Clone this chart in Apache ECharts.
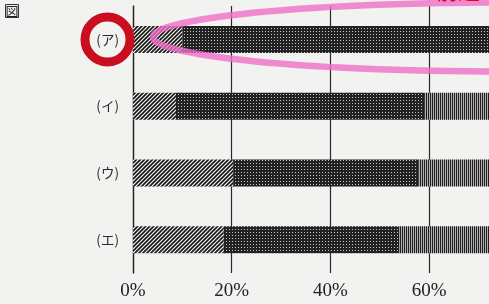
<!DOCTYPE html>
<html>
<head>
<meta charset="utf-8">
<script src="https://cdn.jsdelivr.net/npm/echarts@6/dist/echarts.min.js"></script>
<style>
  html, body { margin: 0; padding: 0; background: #f2f2f0; }
  #chart { width: 489px; height: 304px; }
</style>
</head>
<body>
<div id="chart"></div>
<script>
// values (percent of each bar)
const categories = ["(ア)", "(イ)", "(ウ)", "(エ)"];
const hatched = [10, 8.7, 20.3, 18.4];
const dotted = [70, 50.3, 37.5, 35.6];
const striped = [20, 41, 42.2, 46];
const tickLabels = ["0%", "20%", "40%", "60%", "80%", "100%"];

// small canvas tiles used as fill patterns
function tile(w, h, draw) {
  const c = document.createElement("canvas");
  c.width = w;
  c.height = h;
  draw(c.getContext("2d"));
  return { image: c, repeat: "repeat" };
}

const hatchFill = tile(4, 4, (g) => {
  g.fillStyle = "#f4f4f2";
  g.fillRect(0, 0, 4, 4);
  g.strokeStyle = "#151515";
  g.lineWidth = 1.6;
  g.beginPath();
  g.moveTo(-1, 5); g.lineTo(5, -1);
  g.moveTo(-1, 1); g.lineTo(1, -1);
  g.moveTo(3, 5); g.lineTo(5, 3);
  g.stroke();
});

const dotFill = tile(3, 3, (g) => {
  g.fillStyle = "#222222";
  g.fillRect(0, 0, 3, 3);
  g.fillStyle = "#c8c8c8";
  g.fillRect(1, 1, 1, 1);
});

const stripeFill = tile(2, 2, (g) => {
  g.fillStyle = "#1e1e1e";
  g.fillRect(0, 0, 1, 2);
  g.fillStyle = "#b0b0b0";
  g.fillRect(1, 0, 1, 2);
});

// pink highlighter loop around the first bar (annotation only)
const loop = [];
for (let i = 0; i <= 120; i++) {
  const t = (i / 120) * Math.PI * 2;
  loop.push([503 + 350 * Math.cos(t), 37 + 34.5 * Math.sin(t)]);
}

const chart = echarts.init(document.getElementById("chart"), null, { renderer: "canvas" });

const barBase = { type: "bar", stack: "all", barWidth: 27, silent: true };

chart.setOption({
  animation: false,
  backgroundColor: "#f2f2f0",
  grid: {
    left: 133, top: 6, width: 493.5, height: 267,
    containLabel: false, outerBoundsMode: "none"
  },
  xAxis: {
    type: "value",
    min: 0,
    max: 100,
    interval: 20,
    axisLine: { show: false },
    axisTick: { show: false },
    splitLine: { show: true, lineStyle: { color: "#2a2a2a", width: 1.2 } },
    axisLabel: {
      margin: 9,
      color: "#222",
      fontFamily: "Liberation Serif",
      fontSize: 19,
      formatter: (v) => tickLabels[v / 20]
    }
  },
  yAxis: {
    type: "category",
    data: categories,
    inverse: true,
    axisLine: { show: true, lineStyle: { color: "#222", width: 1.3 } },
    axisTick: { show: false },
    axisLabel: {
      margin: 14,
      color: "#2a2a2a",
      fontFamily: "Noto Sans CJK JP",
      fontSize: 13.5
    }
  },
  series: [
    Object.assign({ name: "hatched", data: hatched, itemStyle: { color: hatchFill } }, barBase),
    Object.assign({ name: "dotted", data: dotted, itemStyle: { color: dotFill } }, barBase),
    Object.assign({ name: "striped", data: striped, itemStyle: { color: stripeFill } }, barBase)
  ],
  graphic: [
    {
      type: "rect",
      shape: { x: 5.5, y: 4.5, width: 13, height: 13 },
      style: { fill: "none", stroke: "#333", lineWidth: 1 }
    },
    {
      type: "text",
      x: 12, y: 11.2,
      style: {
        text: "図", fill: "#222", font: "13px 'Noto Sans CJK JP'",
        align: "center", verticalAlign: "middle"
      }
    },
    {
      type: "polygon",
      z: 100,
      shape: { points: loop },
      style: { fill: "none", stroke: "rgba(240,110,200,0.8)", lineWidth: 6.5 }
    },
    {
      type: "circle",
      z: 101,
      shape: { cx: 107.5, cy: 39.5, r: 22.5 },
      style: { fill: "none", stroke: "#c90f1f", lineWidth: 9 }
    },
    {
      type: "text",
      z: 101,
      x: 436, y: -20,
      style: { text: "前述", fill: "#d0101e", font: "22px 'Noto Sans CJK JP'" }
    }
  ]
});
</script>
</body>
</html>
